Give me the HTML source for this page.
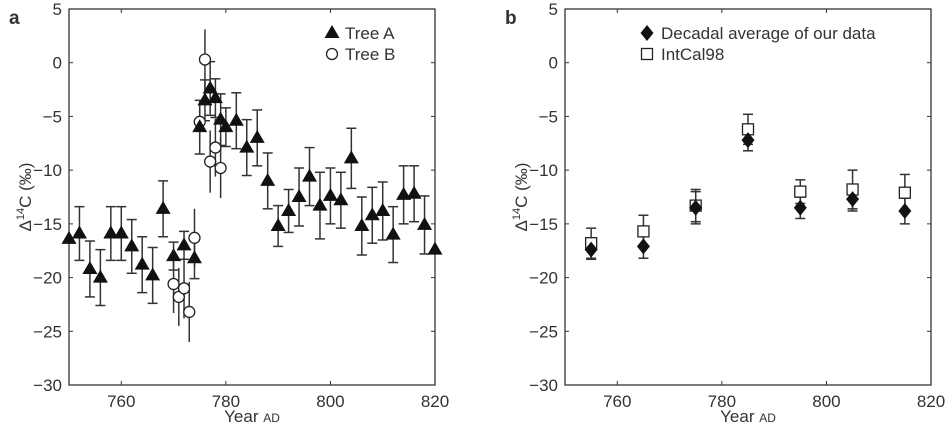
<!DOCTYPE html>
<html><head><meta charset="utf-8"><style>
body{margin:0;background:#fff;}
svg text{font-family:"Liberation Sans",sans-serif;fill:#333;}
</style></head><body>
<svg id="chart" width="946" height="428" xmlns="http://www.w3.org/2000/svg"></svg>
<script>
const yearsA=[750,752,754,756,758,760,762,764,766,768,770,772,774,775,776,777,778,779,780,782,784,786,788,790,792,794,796,798,800,802,804,806,808,810,812,814,816,818,820];
const valsA=[-16.4,-15.9,-19.2,-20.0,-15.9,-15.9,-17.1,-18.8,-19.8,-13.6,-18.0,-17.0,-18.2,-6.0,-3.5,-2.4,-3.3,-5.3,-6.0,-5.4,-7.9,-7.0,-11.0,-15.2,-13.8,-12.5,-10.6,-13.3,-12.4,-12.8,-8.9,-15.2,-14.2,-13.8,-16.0,-12.3,-12.2,-15.1,-17.4];
const errA=[0,2.5,2.6,2.6,2.5,2.5,2.5,2.6,2.6,2.6,1.3,1.3,1.9,2.5,1.9,2.5,1.8,2.4,1.8,2.6,2.6,2.6,2.6,1.9,2.0,2.7,2.7,3.1,2.6,2.6,2.8,2.7,2.6,2.7,2.6,2.7,2.6,2.7,0];
const yearsB=[770,771,772,773,774,775,776,777,778,779];
const valsB=[-20.6,-21.8,-21.0,-23.2,-16.3,-5.5,0.3,-9.2,-7.9,-9.8];
const errB=[2.7,2.7,2.8,2.8,2.7,2.0,2.8,2.9,2.7,2.8];
const yearsD=[755,765,775,785,795,805,815];
const valsDec=[-17.4,-17.1,-13.5,-7.2,-13.5,-12.7,-13.8];
const errDec=[0.9,1.1,1.5,1.0,1.0,1.1,1.2];
const valsInt=[-16.8,-15.7,-13.3,-6.2,-12.0,-11.8,-12.1];
const errInt=[1.4,1.5,1.5,1.4,1.1,1.8,1.7];
const xTicks=[760,780,800,820];
const yTicks=[5,0,-5,-10,-15,-20,-25,-30];

const NS="http://www.w3.org/2000/svg";
const svg=document.getElementById('chart');
function mk(tag,attrs,parent){const e=document.createElementNS(NS,tag);for(const k in attrs)e.setAttribute(k,attrs[k]);(parent||svg).appendChild(e);return e;}
function panel(left,right,name,letter){
  const top=9,bottom=385;
  const g=mk('g',{});
  
  
  const sx=v=>left+(v-750)/70*(right-left);
  const sy=v=>top+(5-v)/35*(bottom-top);
  const fr=mk('rect',{x:left,y:top,width:right-left,height:bottom-top,fill:'none',stroke:'#333','stroke-width':1.3},g);
  
  
  yTicks.forEach(t=>{
    const y=sy(t);
    mk('line',{x1:left,x2:left+4,y1:y,y2:y,stroke:'#333'},g);
    mk('line',{x1:right-4,x2:right,y1:y,y2:y,stroke:'#333'},g);
    const tx=mk('text',{x:left-7,y:y+6,'text-anchor':'end','font-size':17},g);
    tx.textContent=t<0?'\u2212'+(-t):String(t);
    
    
  });
  xTicks.forEach(t=>{
    const x=sx(t);
    mk('line',{x1:x,x2:x,y1:bottom,y2:bottom-4,stroke:'#333'},g);
    mk('line',{x1:x,x2:x,y1:top,y2:top+4,stroke:'#333'},g);
    const tx=mk('text',{x:x,y:bottom+22,'text-anchor':'middle','font-size':17},g);
    tx.textContent=t;
    
    
  });
  const xt=mk('text',{x:(left+right)/2,y:422,'text-anchor':'middle','font-size':17},g);
  xt.innerHTML='Year <tspan font-size="12">AD</tspan>';
  
  
  const yt=mk('text',{x:0,y:0,'text-anchor':'middle','font-size':17,transform:`translate(${left-38},${(top+bottom)/2}) rotate(-90)`},g);
  yt.innerHTML='\u0394<tspan font-size="11" dy="-7">14</tspan><tspan dy="7">C (\u2030)</tspan>';
  
  
  const lt=mk('text',{x:left-60,y:24,'font-size':19,'font-weight':'bold',fill:'#111'},g);
  lt.textContent=letter;
  
  
  return {g,sx,sy};
}
function errbar(g,x,y1,y2,cap){
  mk('line',{x1:x,x2:x,y1:y1,y2:y2,stroke:'#333','stroke-width':1.5},g);
  if(cap){mk('line',{x1:x-5,x2:x+5,y1:y1,y2:y1,stroke:'#333','stroke-width':1.5},g);mk('line',{x1:x-5,x2:x+5,y1:y2,y2:y2,stroke:'#333','stroke-width':1.5},g);}
}
function tri(g,x,y){return mk('polygon',{points:`${x},${y-8} ${x-7.5},${y+5} ${x+7.5},${y+5}`,fill:'#111'},g);}
function circ(g,x,y){return mk('circle',{cx:x,cy:y,r:5.5,fill:'#fff',stroke:'#222','stroke-width':1.3},g);}
function dia(g,x,y){return mk('polygon',{points:`${x},${y-8} ${x+6.5},${y} ${x},${y+8} ${x-6.5},${y}`,fill:'#111'},g);}
function sq(g,x,y){return mk('rect',{x:x-5.5,y:y-5.5,width:11,height:11,fill:'#fff',stroke:'#222','stroke-width':1.3},g);}

// Panel a
const A=panel(69,435,'panel-a','a');
yearsB.forEach((yr,i)=>{errbar(A.g,A.sx(yr),A.sy(valsB[i]+errB[i]),A.sy(valsB[i]-errB[i]),false);});
yearsA.forEach((yr,i)=>{if(errA[i]>0)errbar(A.g,A.sx(yr),A.sy(valsA[i]+errA[i]),A.sy(valsA[i]-errA[i]),true);});
yearsB.forEach((yr,i)=>{const m=circ(A.g,A.sx(yr),A.sy(valsB[i]));

});
yearsA.forEach((yr,i)=>{const m=tri(A.g,A.sx(yr),A.sy(valsA[i]));

});
let m1=tri(A.g,332,33);
let l1=mk('text',{x:345,y:39,'font-size':17},A.g);l1.textContent='Tree A';
let m2=circ(A.g,332,54);
let l2=mk('text',{x:345,y:60,'font-size':17},A.g);l2.textContent='Tree B';

// Panel b
const B=panel(565,931,'panel-b','b');
yearsD.forEach((yr,i)=>{
  errbar(B.g,B.sx(yr),B.sy(valsInt[i]+errInt[i]),B.sy(valsInt[i]-errInt[i]),true);
  errbar(B.g,B.sx(yr),B.sy(valsDec[i]+errDec[i]),B.sy(valsDec[i]-errDec[i]),true);
});
yearsD.forEach((yr,i)=>{const m=sq(B.g,B.sx(yr),B.sy(valsInt[i]));

});
yearsD.forEach((yr,i)=>{const m=dia(B.g,B.sx(yr),B.sy(valsDec[i]));

});
let m3=dia(B.g,647,33);
let l3=mk('text',{x:661,y:39,'font-size':17},B.g);l3.textContent='Decadal average of our data';
let m4=sq(B.g,647,54);
let l4=mk('text',{x:661,y:60,'font-size':17},B.g);l4.textContent='IntCal98';
</script>
</body></html>
